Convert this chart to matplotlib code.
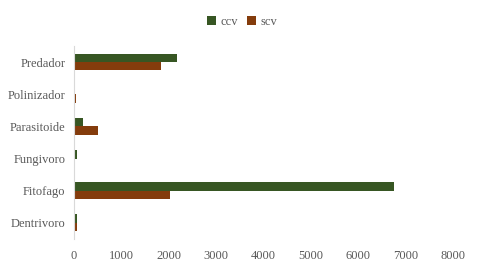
import matplotlib
matplotlib.use("Agg")
import matplotlib.pyplot as plt
import numpy as np

categories = ["Dentrivoro", "Fitofago", "Fungivoro", "Parasitoide", "Polinizador", "Predador"]
ccv = [60, 6750, 55, 190, 10, 2170]
scv = [60, 2025, 0, 505, 40, 1835]
xticks = [0, 1000, 2000, 3000, 4000, 5000, 6000, 7000, 8000]

plt.rcParams['font.family'] = ['Liberation Serif', 'DejaVu Serif']
fig = plt.figure(figsize=(4.8, 2.69), dpi=100)
ax = fig.add_axes([0.154, 0.112, 0.790, 0.717])

y = np.arange(len(categories))
h = 0.26
green = "#375623"
brown = "#843C0C"
ax.barh(y + h/2, ccv, height=h, color=green, label="ccv")
ax.barh(y - h/2, scv, height=h, color=brown, label="scv")

ax.set_xlim(0, 8000)
ax.set_ylim(-0.5, len(categories) - 0.5)
ax.set_yticks(y)
ax.set_yticklabels(categories)
ax.set_xticks(xticks)
ax.set_xticklabels([str(t) for t in xticks])
ax.tick_params(axis='both', length=0, labelsize=9, colors="#595959", pad=6)
ax.tick_params(axis='x', pad=8)
for s in ["top", "right", "bottom"]:
    ax.spines[s].set_visible(False)
ax.spines["left"].set_color("#d9d9d9")
ax.spines["left"].set_linewidth(0.8)

leg = fig.legend(loc="center", bbox_to_anchor=(0.505, 0.92), ncol=2, frameon=False,
                 fontsize=9, handlelength=0.7, handleheight=0.7, columnspacing=0.7,
                 handletextpad=0.4)
for t in leg.get_texts():
    t.set_color("#595959")

fig.savefig("out.png", dpi=100)
